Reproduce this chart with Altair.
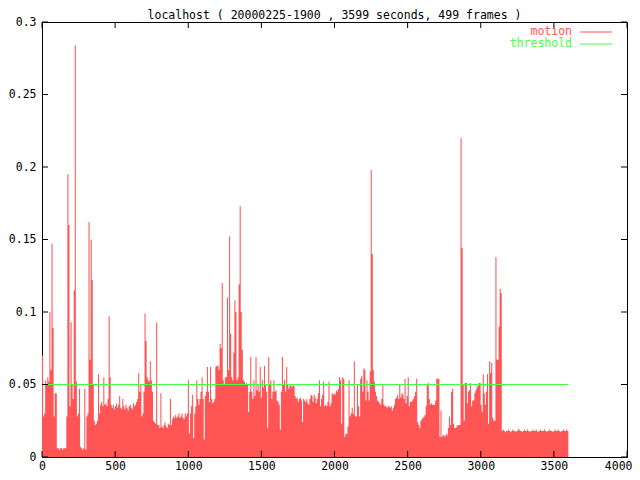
import altair as alt
import pandas as pd

title_text = "localhost ( 20000225-1900 , 3599 seconds, 499 frames )"
duration = 3599
threshold_value = 0.05
series_names = ["motion", "threshold"]
series_colors = ["#ff5555", "#44ff44"]
x_ticks = [0, 500, 1000, 1500, 2000, 2500, 3000, 3500, 4000]
y_ticks = [0, 0.05, 0.1, 0.15, 0.2, 0.25, 0.3]

motion = [
    0.070, 0.028, 0.030, 0.053, 0.050, 0.055, 0.052, 0.100, 0.060, 0.147,
    0.089, 0.028, 0.044, 0.044, 0.006, 0.006, 0.005, 0.006, 0.006, 0.005,
    0.006, 0.006, 0.006, 0.028, 0.195, 0.160, 0.035, 0.093, 0.050, 0.040,
    0.115, 0.284, 0.052, 0.028, 0.030, 0.047, 0.007, 0.006, 0.005, 0.006,
    0.047, 0.005, 0.028, 0.030, 0.162, 0.067, 0.150, 0.122, 0.050, 0.025,
    0.022, 0.023, 0.025, 0.057, 0.030, 0.036, 0.038, 0.035, 0.055, 0.036,
    0.037, 0.035, 0.040, 0.097, 0.055, 0.036, 0.034, 0.036, 0.033, 0.035,
    0.037, 0.034, 0.036, 0.042, 0.034, 0.033, 0.040, 0.035, 0.033, 0.036,
    0.034, 0.032, 0.035, 0.036, 0.034, 0.033, 0.037, 0.035, 0.036, 0.038,
    0.040, 0.058, 0.045, 0.050, 0.028, 0.030, 0.045, 0.099, 0.080, 0.055,
    0.053, 0.052, 0.066, 0.053, 0.045, 0.025, 0.024, 0.023, 0.093, 0.022,
    0.022, 0.020, 0.044, 0.021, 0.020, 0.022, 0.024, 0.021, 0.020, 0.023,
    0.022, 0.040, 0.022, 0.026, 0.028, 0.027, 0.029, 0.027, 0.028, 0.030,
    0.027, 0.028, 0.030, 0.027, 0.026, 0.030, 0.028, 0.030, 0.053, 0.016,
    0.030, 0.035, 0.043, 0.013, 0.030, 0.035, 0.053, 0.040, 0.036, 0.040,
    0.045, 0.055, 0.040, 0.012, 0.042, 0.045, 0.062, 0.045, 0.038, 0.062,
    0.040, 0.037, 0.038, 0.040, 0.062, 0.063, 0.063, 0.060, 0.078, 0.075,
    0.120, 0.053, 0.050, 0.055, 0.055, 0.110, 0.060, 0.152, 0.085, 0.055,
    0.053, 0.072, 0.108, 0.100, 0.053, 0.055, 0.119, 0.173, 0.100, 0.074,
    0.053, 0.052, 0.050, 0.051, 0.050, 0.031, 0.045, 0.069, 0.045, 0.040,
    0.053, 0.042, 0.069, 0.046, 0.050, 0.045, 0.062, 0.041, 0.053, 0.048,
    0.063, 0.050, 0.045, 0.020, 0.069, 0.050, 0.053, 0.040, 0.045, 0.053,
    0.045, 0.046, 0.039, 0.038, 0.036, 0.019, 0.045, 0.069, 0.050, 0.053,
    0.045, 0.062, 0.050, 0.047, 0.049, 0.050, 0.048, 0.050, 0.049, 0.042,
    0.040, 0.041, 0.038, 0.040, 0.041, 0.039, 0.024, 0.040, 0.039, 0.038,
    0.040, 0.037, 0.036, 0.040, 0.043, 0.042, 0.038, 0.043, 0.041, 0.037,
    0.040, 0.044, 0.053, 0.035, 0.040, 0.043, 0.052, 0.035, 0.036, 0.035,
    0.038, 0.052, 0.035, 0.037, 0.044, 0.043, 0.044, 0.043, 0.046, 0.045,
    0.047, 0.055, 0.053, 0.023, 0.055, 0.054, 0.014, 0.016, 0.016, 0.021,
    0.053, 0.028, 0.030, 0.034, 0.030, 0.066, 0.028, 0.028, 0.050, 0.035,
    0.028, 0.054, 0.056, 0.045, 0.061, 0.060, 0.039, 0.053, 0.045, 0.039,
    0.059, 0.198, 0.140, 0.060, 0.052, 0.045, 0.042, 0.039, 0.038, 0.037,
    0.036, 0.040, 0.050, 0.036, 0.035, 0.035, 0.034, 0.035, 0.035, 0.034,
    0.035, 0.032, 0.034, 0.036, 0.040, 0.041, 0.043, 0.040, 0.050, 0.041,
    0.044, 0.043, 0.040, 0.054, 0.037, 0.042, 0.055, 0.035, 0.038, 0.038,
    0.039, 0.040, 0.042, 0.045, 0.054, 0.024, 0.022, 0.020, 0.025, 0.026,
    0.027, 0.028, 0.029, 0.035, 0.050, 0.051, 0.040, 0.036, 0.037, 0.036,
    0.036, 0.036, 0.039, 0.054, 0.054, 0.054, 0.014, 0.032, 0.014, 0.015,
    0.015, 0.014, 0.016, 0.015, 0.020, 0.028, 0.022, 0.045, 0.047, 0.023,
    0.020, 0.020, 0.021, 0.022, 0.022, 0.022, 0.220, 0.144, 0.050, 0.025,
    0.051, 0.051, 0.037, 0.045, 0.046, 0.051, 0.035, 0.039, 0.039, 0.044,
    0.046, 0.048, 0.049, 0.051, 0.051, 0.036, 0.031, 0.057, 0.044, 0.036,
    0.045, 0.057, 0.023, 0.066, 0.058, 0.065, 0.027, 0.025, 0.025, 0.138,
    0.067, 0.067, 0.090, 0.116, 0.113,
    0.018, 0.019, 0.018, 0.017, 0.018, 0.018, 0.019, 0.018, 0.017, 0.018,
    0.019, 0.018, 0.018, 0.017, 0.018, 0.019, 0.019, 0.018, 0.018, 0.017,
    0.018, 0.019, 0.018, 0.018, 0.019, 0.018, 0.017, 0.018, 0.018, 0.019,
    0.018, 0.018, 0.019, 0.018, 0.017, 0.018, 0.019, 0.018, 0.018, 0.018,
    0.019, 0.018, 0.017, 0.018, 0.018, 0.019, 0.018, 0.018, 0.017, 0.018,
    0.019, 0.018, 0.018, 0.019, 0.018, 0.017, 0.018, 0.018, 0.019, 0.018,
    0.018, 0.019, 0.018, 0.020,
]

W, H, TICK = 585, 435, 6

n = len(motion)
df = pd.DataFrame({
    "t": [i * duration / (n - 1) for i in range(n)],
    "motion": motion,
})
thr_df = pd.DataFrame({"start": [0], "end": [duration], "threshold": [threshold_value]})
xt_df = pd.DataFrame({"xt": x_ticks})
yt_df = pd.DataFrame({"yt": y_ticks})

FONT = "DejaVu Sans Mono"
FS = 11.5
xs = alt.Scale(domain=[0, 4000], nice=False, zero=False)
ys = alt.Scale(domain=[0, 0.3], nice=False)

common_axis = dict(ticks=False, domain=False, grid=False, title=None,
                   labelColor="black", labelFont=FONT,
                   labelFontSize=FS, labelOverlap=False)
last_x = x_ticks[-1]
x_axis = alt.Axis(
    orient="bottom", values=x_ticks, labelPadding=3, format="d", labelFlush=False,
    labelAlign={"condition": {"test": f"datum.value == {last_x}", "value": "right"},
                "value": "center"},
    labelOffset={"condition": {"test": f"datum.value == {last_x}", "value": 5},
                 "value": 0},
    **common_axis)
y_axis = alt.Axis(orient="left", values=y_ticks, labelPadding=6,
                  format="~g", **common_axis)

area = alt.Chart(df).mark_area(
    interpolate="step-after", color=series_colors[0], opacity=1
).encode(
    x=alt.X("t:Q", scale=xs, axis=x_axis),
    y=alt.Y("motion:Q", scale=ys, axis=y_axis),
)

thr = alt.Chart(thr_df).mark_rule(color=series_colors[1], strokeWidth=1).encode(
    x=alt.X("start:Q", scale=xs, axis=x_axis),
    x2="end:Q",
    y=alt.Y("threshold:Q", scale=ys, axis=y_axis),
)

# inward tick marks on all four sides (gnuplot style)
tick_layers = [
    alt.Chart(xt_df).mark_rule(color="black", strokeWidth=1).encode(
        x=alt.X("xt:Q", scale=xs, axis=x_axis), y=alt.value(H), y2=alt.value(H - TICK)),
    alt.Chart(xt_df).mark_rule(color="black", strokeWidth=1).encode(
        x=alt.X("xt:Q", scale=xs, axis=x_axis), y=alt.value(0), y2=alt.value(TICK)),
    alt.Chart(yt_df).mark_rule(color="black", strokeWidth=1).encode(
        y=alt.Y("yt:Q", scale=ys, axis=y_axis), x=alt.value(0), x2=alt.value(TICK)),
    alt.Chart(yt_df).mark_rule(color="black", strokeWidth=1).encode(
        y=alt.Y("yt:Q", scale=ys, axis=y_axis), x=alt.value(W - TICK), x2=alt.value(W)),
]

legend_layers = []
for k, (name, col) in enumerate(zip(series_names, series_colors)):
    ypos = 10 + 12 * k
    ldf = pd.DataFrame({"label": [name]})
    legend_layers.append(
        alt.Chart(ldf).mark_text(align="right", baseline="middle", color=col,
                                 font=FONT, fontSize=FS).encode(
            text="label:N", x=alt.value(530), y=alt.value(ypos))
    )
    legend_layers.append(
        alt.Chart(ldf).mark_rule(color=col, strokeWidth=1).encode(
            x=alt.value(538), x2=alt.value(570), y=alt.value(ypos))
    )

title_layer = alt.Chart(pd.DataFrame({"title": [title_text]})).mark_text(
    align="center", baseline="alphabetic", color="black", font=FONT, fontSize=FS
).encode(text="title:N", x=alt.value(W / 2), y=alt.value(-3))

chart = alt.layer(area, thr, *tick_layers, *legend_layers, title_layer).properties(
    width=W, height=H,
    background="white",
    autosize=alt.AutoSizeParams(type="none"),
    padding={"left": 34, "top": 14, "right": 5, "bottom": 15},
).configure_view(stroke="black", strokeWidth=1)

chart.save("out.html", embed_options={"renderer": "svg", "actions": False})
